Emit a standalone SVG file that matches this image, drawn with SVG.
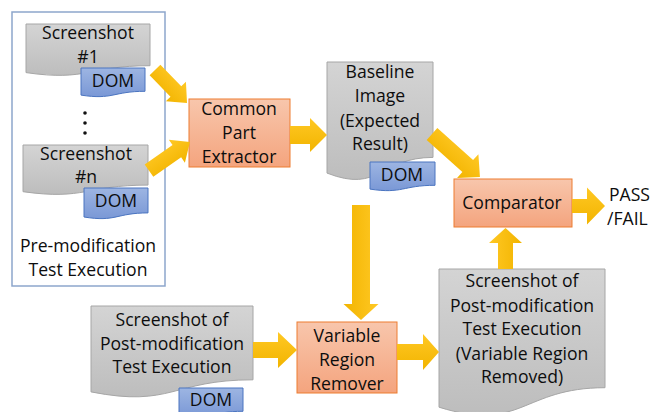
<svg xmlns="http://www.w3.org/2000/svg" width="652" height="412" viewBox="0 0 652 412">
  <defs>
    <linearGradient id="gray" x1="0" y1="0" x2="0" y2="1">
      <stop offset="0" stop-color="#d4d4d4"/>
      <stop offset="1" stop-color="#bdbdbd"/>
    </linearGradient>
    <linearGradient id="blue" x1="0" y1="0" x2="0" y2="1">
      <stop offset="0" stop-color="#9db5e2"/>
      <stop offset="1" stop-color="#7a98d6"/>
    </linearGradient>
    <linearGradient id="orange" x1="0" y1="0" x2="0" y2="1">
      <stop offset="0" stop-color="#f8c6ac"/>
      <stop offset="1" stop-color="#f4a47e"/>
    </linearGradient>
    <linearGradient id="gold" x1="0" y1="0" x2="0" y2="1">
      <stop offset="0" stop-color="#ffc824"/>
      <stop offset="1" stop-color="#f2b400"/>
    </linearGradient>
  </defs>
  <style>
    text { font-family: "Open Sans", "Liberation Sans", sans-serif; font-size: 17.6px; fill: #0d0d0d; text-anchor: middle; }
    .doc { fill: url(#gray); stroke: #a6a6a6; stroke-width: 1; }
    .dom { fill: url(#blue); stroke: #4a74c0; stroke-width: 1; }
    .proc { fill: url(#orange); stroke: #ed7d31; stroke-width: 1; }
    .arrow { fill: url(#gold); stroke: none; }
    .frame { fill: #fff; stroke: #8da6cc; stroke-width: 1.5; }
  </style>

  <!-- pre-modification group frame -->
  <g id="pre-modification">
    <rect class="frame" x="12" y="12" width="153" height="274"/>
    <text x="88" y="252">Pre-modification</text>
    <text x="88" y="276">Test Execution</text>
  </g>

  <g id="screenshot-1">
    <path class="doc" d="M26 24 H150 V65.7 C88 65.7 88 81.6 26 72.6 Z"/>
    <text x="88" y="39">Screenshot</text>
    <text x="88" y="63">#1</text>
  </g>
  <g id="dom-1">
    <path class="dom" d="M81 68 H145 V91.3 C113 91.3 113 100.1 81 95.1 Z"/>
    <text x="113" y="87">DOM</text>
  </g>

  <g id="ellipsis">
    <circle cx="85" cy="113" r="1.8" fill="#111"/>
    <circle cx="85" cy="123" r="1.8" fill="#111"/>
    <circle cx="85" cy="133" r="1.8" fill="#111"/>
  </g>

  <g id="screenshot-n">
    <path class="doc" d="M23 145 H148 V185.1 C85.5 185.1 85.5 200.4 23 191.7 Z"/>
    <text x="86" y="160">Screenshot</text>
    <text x="86" y="183">#n</text>
  </g>
  <g id="dom-n">
    <path class="dom" d="M84 188 H148 V212.9 C116 212.9 116 222.3 84 217 Z"/>
    <text x="116" y="207">DOM</text>
  </g>

  <g id="common-part-extractor">
    <rect class="proc" x="189" y="99" width="101" height="68"/>
    <text x="239" y="115">Common</text>
    <text x="239" y="139">Part</text>
    <text x="239" y="163">Extractor</text>
  </g>

  <g id="baseline-image">
    <path class="doc" d="M327 62 H433 V157.4 C380 157.4 380 193.8 327 173.1 Z"/>
    <text x="380" y="78">Baseline</text>
    <text x="380" y="102">Image</text>
    <text x="380" y="127">(Expected</text>
    <text x="380" y="150">Result)</text>
  </g>
  <g id="dom-baseline">
    <path class="dom" d="M370 162 H435 V185.3 C402.5 185.3 402.5 194.1 370 189.1 Z"/>
    <text x="402" y="181">DOM</text>
  </g>

  <g id="comparator">
    <rect class="proc" x="454" y="179" width="118" height="48"/>
    <text x="512" y="209">Comparator</text>
  </g>

  <g id="result">
    <text x="609" y="201" style="text-anchor:start">PASS</text>
    <text x="607" y="225" style="text-anchor:start">/FAIL</text>
  </g>

  <g id="post-screenshot">
    <path class="doc" d="M91 306 H253 V379.8 C172 379.8 172 407.9 91 391.9 Z"/>
    <text x="172" y="326">Screenshot of</text>
    <text x="172" y="350">Post-modification</text>
    <text x="172" y="373">Test Execution</text>
  </g>
  <g id="dom-post">
    <path class="dom" d="M179 388 H243 V411.3 C211 411.3 211 420.1 179 415.1 Z"/>
    <text x="211" y="406">DOM</text>
  </g>

  <g id="variable-region-remover">
    <rect class="proc" x="297" y="322" width="100" height="71"/>
    <text x="347" y="342">Variable</text>
    <text x="347" y="366">Region</text>
    <text x="347" y="390">Remover</text>
  </g>

  <g id="post-screenshot-removed">
    <path class="doc" d="M439 269 H605 V387.7 C522 387.7 522 432.9 439 407.2 Z"/>
    <text x="522" y="287">Screenshot of</text>
    <text x="522" y="312">Post-modification</text>
    <text x="522" y="335">Test Execution</text>
    <text x="522" y="360">(Variable Region</text>
    <text x="522" y="383">Removed)</text>
  </g>

  <!-- block arrows, each drawn along +x from its start point and rotated -->
  <g id="connectors">
    <!-- DOM #1 to extractor -->
    <path class="arrow" transform="translate(155,70) rotate(45.9)" d="M0 -7.5 H30 V-14 L46 0 L30 14 V7.5 H0 Z"/>
    <!-- DOM #n to extractor -->
    <path class="arrow" transform="translate(149,170.7) rotate(-35)" d="M0 -7.5 H34 V-14 L50 0 L34 14 V7.5 H0 Z"/>
    <!-- extractor to baseline -->
    <path class="arrow" transform="translate(290,135)" d="M0 -9 H20 V-17 L37 0 L20 17 V9 H0 Z"/>
    <!-- baseline to comparator -->
    <path class="arrow" transform="translate(432,134) rotate(41.9)" d="M0 -8 H48 V-16 L64.4 0 L48 16 V8 H0 Z"/>
    <!-- baseline down to remover -->
    <path class="arrow" transform="translate(361,205) rotate(90)" d="M0 -9 H99 V-17.5 L115 0 L99 17.5 V9 H0 Z"/>
    <!-- post screenshot to remover -->
    <path class="arrow" transform="translate(253,350)" d="M0 -8 H25 V-18 L44 0 L25 18 V8 H0 Z"/>
    <!-- remover to removed screenshot -->
    <path class="arrow" transform="translate(397,352)" d="M0 -8 H26 V-18 L42 0 L26 18 V8 H0 Z"/>
    <!-- removed screenshot up to comparator -->
    <path class="arrow" transform="translate(505.5,269) rotate(-90)" d="M0 -7.5 H26 V-16.5 L41 0 L26 16.5 V7.5 H0 Z"/>
    <!-- comparator to result -->
    <path class="arrow" transform="translate(572,206)" d="M0 -7 H15 V-18.5 L33 0 L15 18.5 V7 H0 Z"/>
  </g>
</svg>
